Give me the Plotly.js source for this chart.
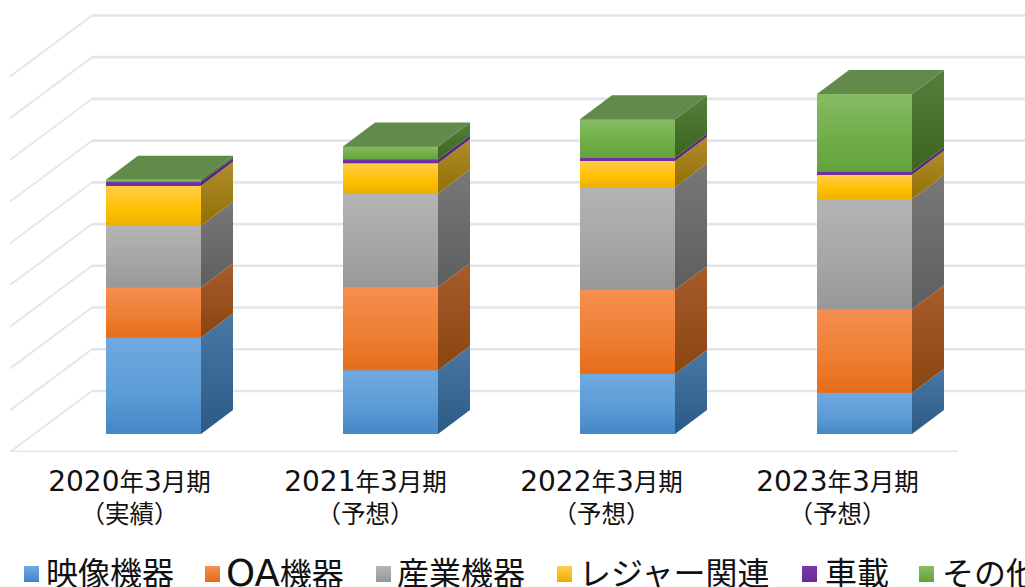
<!DOCTYPE html>
<html><head><meta charset="utf-8">
<script src="https://cdn.plot.ly/plotly-3.0.1.min.js"></script>
<style>html,body{margin:0;padding:0;background:#fff;overflow:hidden}#c{width:1025px;height:587px}</style>
</head><body><div id="c"></div>
<script>
const categories = ['2020年3月期<br>（実績）','2021年3月期<br>（予想）','2022年3月期<br>（予想）','2023年3月期<br>（予想）'];
const seriesNames = ['映像機器','OA機器','産業機器','レジャー関連','車載','その他'];
const eizo    = [231,153,144,99];
const oa      = [120,199,201,200];
const sangyo  = [148,225,247,264];
const leisure = [96,72,62,58];
const shasai  = [9,9,8,8];
const sonota  = [5,31,92,186];
const gridValues = [0,100,200,300,400,500,600,700,800,900];
const seriesValues = [eizo,oa,sangyo,leisure,shasai,sonota];

// colours: [base, front top, front bottom, side top, side bottom]
const palette = [
 ['#5b9bd5','#6fa9e0','#4486c6','#4a78a4','#2c5a86'],
 ['#ed7d31','#f68f50','#e66c18','#a85c2b','#8a4511'],
 ['#a5a5a5','#b4b4b4','#989898','#787878','#5e5e5e'],
 ['#ffc000','#ffcd4a','#ecaf00','#b08c30','#927000'],
 ['#7030a0','#7a38aa','#682c96','#5a2c80','#4e2670'],
 ['#70ad47','#85bc64','#64a33b','#567f3c','#3b6421']
];
const topColor = '#628a4a';

// page geometry -> axis geometry
const W=1025,H=587,floorPx=452,basePx=434,barLeft0=106,barW=95,step=237;
const pxPerUnit=0.4173;
const cx0=barLeft0+barW/2;
const hw=barW/step/2, dx=32/step, dy=24/pxPerUnit;
const wallDx=82/step, wallDy=(452-391)/pxPerUnit;
const floorY=-(floorPx-basePx)/pxPerUnit;
const tickShift=24/step, tickStep=236/step;
const xLeftWall=(10-cx0)/step, xRightFloor=(958-cx0)/step;

const traces=[];
// flat stacked bars
seriesNames.forEach((n,s)=>{
  traces.push({type:'bar',name:n,x:categories.map((_,i)=>i),y:seriesValues[s],width:2*hw,
    marker:{color:palette[s][0],line:{width:0}},hoverinfo:'skip',showlegend:false});
});
// shaded faces computed from stacked values
categories.forEach((_,i)=>{
  let a=0;
  seriesValues.forEach((vals,s)=>{
    const b=a+vals[i];
    traces.push({type:'scatter',mode:'none',fill:'toself',showlegend:false,hoverinfo:'skip',
      x:[i-hw,i+hw,i+hw,i-hw,i-hw],y:[a,a,b,b,a],
      fillgradient:{type:'vertical',start:b,stop:a,colorscale:[[0,palette[s][1]],[0.6,palette[s][0]],[1,palette[s][2]]]}});
    traces.push({type:'scatter',mode:'none',fill:'toself',showlegend:false,hoverinfo:'skip',
      x:[i+hw,i+hw+dx,i+hw+dx,i+hw,i+hw],y:[a,a+dy,b+dy,b,a],
      fillgradient:{type:'vertical',start:b+dy,stop:a,colorscale:[[0,palette[s][3]],[1,palette[s][4]]]}});
    a=b;
  });
  traces.push({type:'scatter',mode:'none',fill:'toself',fillcolor:topColor,showlegend:false,hoverinfo:'skip',
    x:[i-hw,i+hw,i+hw+dx,i-hw+dx,i-hw],y:[a,a,a+dy,a+dy,a]});
});

// walls and floor
const gridColor='#e3e5ea';
const shapes=[];
gridValues.forEach(v=>{
  const yb=v+floorY+wallDy;
  shapes.push({type:'line',layer:'below',xref:'x',yref:'y',x0:xLeftWall+wallDx,x1:xRightFloor+wallDx,y0:yb,y1:yb,line:{color:gridColor,width:2.6}});
  shapes.push({type:'line',layer:'below',xref:'x',yref:'y',x0:xLeftWall,x1:xLeftWall+wallDx,y0:v+floorY,y1:yb,line:{color:gridColor,width:1.8}});
});
shapes.push({type:'line',layer:'below',xref:'x',yref:'y',x0:xLeftWall,x1:xRightFloor,y0:floorY,y1:floorY,line:{color:gridColor,width:3}});

// legend (runs off the page edge in the reference)
const legendTextPx=[46,226,397,579,825,942];
const legendSwatchPx=[24,205,376,557,802,919];
const font="'DejaVu Sans','Noto Sans CJK JP',sans-serif";
const latinBig=(t,px)=>t.replace(/[0-9A-Z]+/g,m=>'<span style="font-size:'+px+'px">'+m+'</span>');
const mix=(c1,c2,t)=>{const p=h=>[1,3,5].map(k=>parseInt(h.substr(k,2),16));const A=p(c1),B=p(c2);
  return 'rgb('+A.map((v,j)=>Math.round(v+(B[j]-v)*t)).join(',')+')';};
const plotH=floorPx;
const annotations=[];
seriesNames.forEach((n,s)=>{
  annotations.push({xref:'paper',yref:'paper',x:legendTextPx[s]/W,y:(plotH-573.5)/plotH,xanchor:'left',yanchor:'middle',
    text:latinBig(n,37),showarrow:false,font:{family:font,size:32,color:'#111'},borderpad:0,xshift:-1});
  for(let k=0;k<16;k++){
    shapes.push({type:'rect',layer:'above',xref:'paper',yref:'paper',
      x0:legendSwatchPx[s]/W,x1:(legendSwatchPx[s]+15)/W,
      y0:(plotH-(566+k))/plotH,y1:(plotH-(566+k+1))/plotH,
      fillcolor:mix(palette[s][1],palette[s][2],k/15),line:{width:0}});
  }
});

Plotly.newPlot('c',traces,{
  width:W,height:H,margin:{l:0,r:0,t:0,b:H-floorPx,pad:0},
  paper_bgcolor:'#fff',plot_bgcolor:'#fff',barmode:'stack',showlegend:false,
  font:{family:font,color:'#111'},
  xaxis:{range:[-cx0/step,(W-cx0)/step],tickmode:'array',tickvals:categories.map((_,i)=>i*tickStep-tickShift),
    ticktext:categories.map(c=>latinBig(c,28)),
    tickfont:{family:font,size:24.5,color:'#111'},ticks:'outside',ticklen:9,tickcolor:'rgba(0,0,0,0)',
    showgrid:false,zeroline:false,showline:false,fixedrange:true},
  yaxis:{range:[floorY,basePx/pxPerUnit],visible:false,showgrid:false,zeroline:false,fixedrange:true},
  shapes:shapes,annotations:annotations
},{displayModeBar:false,staticPlot:true});
</script></body></html>
